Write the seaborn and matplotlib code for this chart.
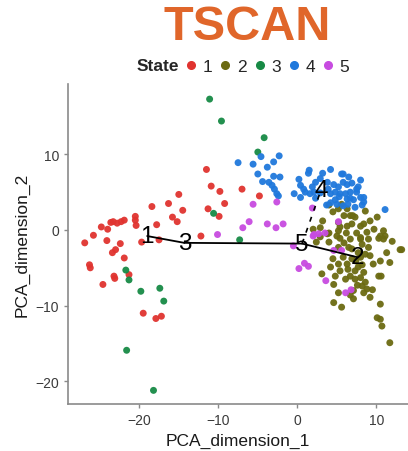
import numpy as np
import pandas as pd
import matplotlib
matplotlib.use("Agg")
import matplotlib.pyplot as plt
import seaborn as sns
from matplotlib.lines import Line2D

# ---------------- data ----------------
s1_x = [-15.0, -16.3, -18.4, -14.5, -15.8, -15.2, -20.5, -20.5, -21.9, -22.3, -22.8, -23.3, -23.6, -24.8, -24.0,
        -25.8, -20.4, -17.8, -24.1, -26.9, -22.4, -19.7, -17.5, -23.0, -23.4, -21.9, -26.3, -26.2, -21.3, -23.2,
        -23.1, -24.6, -19.5, -17.9, -17.2, -12.2, -11.5, -10.9, -9.8, -9.2, -11.3, -9.9, -7.0, -4.8]
s1_y = [4.7, 3.5, 3.1, 2.6, 1.7, 1.1, 1.8, 1.3, 1.3, 1.1, 0.9, 1.1, 1.0, 0.4, 0.1,
        -0.7, 0.6, 0.7, -1.4, -1.7, -1.8, -1.6, -1.3, -2.6, -3.0, -3.7, -4.6, -5.0, -5.9, -6.1,
        -6.4, -7.2, -11.0, -11.7, -11.4, -0.8, 8.0, 5.8, 5.1, 3.5, 2.8, 1.8, 5.4, 4.5]

s2_x = [4.0, 5.6, 8.6, 5.2, 6.7, 7.3, 10.1, 2.9, 5.4, 6.3, 6.9, 8.0, 8.4, 10.9, 5.9, 7.0, 5.2, 4.0, 5.2, 6.2,
        7.5, 8.8, 5.4, 6.7, 8.0, 10.3, 11.1, 12.0, 13.2, 11.3, 3.8, 5.0, 8.0, 10.5, 10.9, 8.2, 9.0, 4.0, 5.2, 6.5,
        13.0, 7.7, 8.6, 9.2, 10.5, 11.7, 5.8, 5.2, 6.3, 4.2, 5.4, 7.3, 8.4, 3.1, 4.8, 6.7, 8.0, 8.6, 10.3, 4.6,
        8.2, 8.8, 5.2, 7.1, 8.4, 4.6, 5.6, 7.1, 9.2, 10.5, 10.1, 10.5, 10.7, 11.7, 9.6, 10.6, 9.5, 6.9, 7.4, 7.7,
        8.2, 7.3, 7.6, 6.1, 6.7, 2.9, 2.4, 2.0, 3.2, 4.5, 6.3, 9.2, 9.7, 9.0, 5.9, 6.9, 8.0, 6.4, 4.5]
s2_y = [3.3, 3.4, 2.5, 2.8, 1.9, 1.7, 1.7, 0.3, 0.4, 0.5, 0.8, 0.5, 0.8, -0.1, 1.9, 1.9, 1.0, -0.4, -0.1, -0.4,
        -0.4, -0.3, -1.1, -1.2, -1.2, -1.1, -0.8, -1.5, -2.6, -3.0, -0.5, -0.8, -1.0, -0.8, -1.2, -1.9, -2.3, -1.6, -2.3, -2.3,
        -2.6, -3.0, -3.2, -3.4, -4.1, -4.3, -3.6, -4.5, -4.5, -4.9, -5.4, -5.4, -5.6, -5.8, -6.1, -6.1, -6.3, -6.9, -6.1, -7.2,
        -7.4, -7.8, -8.3, -8.0, -8.3, -9.6, -10.2, -9.1, -8.9, -9.8, -11.6, -11.8, -12.7, -14.9, -4.5, -6.1, -7.9, -3.8, -4.1, -4.9,
        -4.6, -6.5, -7.3, -6.5, -8.6, -0.9, -1.6, 0.1, 1.2, 2.4, 2.8, 1.2, 0.1, -1.2, -1.7, -2.5, -3.6, -5.2, -3.8]

s3_x = [-11.1, -9.6, -4.2, -5.0, -10.6, -7.3, -21.7, -21.3, -19.8, -17.4, -16.9, -21.6, -18.2]
s3_y = [17.3, 14.4, 12.2, 10.3, 2.2, -1.3, -5.3, -6.6, -8.1, -7.7, -9.4, -15.9, -21.2]

s4_x = [-7.5, -5.6, -4.6, -3.8, -3.0, -2.3, -5.0, -3.0, -2.2, -4.4, -3.6, -3.2, -2.9, -2.6, -2.4,
        1.5, 1.4, 4.2, 5.8, 6.5, 0.2, 2.9, 3.8, 4.6, 5.2, 5.8, 6.3, 8.0, 0.4, 0.8, -0.4, 1.0, 1.6, 0.4, 2.3,
        4.2, 4.8, 5.4, 6.1, 6.7, 7.5, 8.0, 8.4, 4.8, 6.3, 7.1, 3.7, 4.2, 5.8, 7.3, 8.2, 8.4, 11.1, 2.1, 5.0,
        7.5, 5.6, 2.3, 3.2, 6.9, 6.4, 5.3, 3.9, 1.9, 7.7, 2.9, 6.7]
s4_y = [8.9, 8.7, 9.7, 8.3, 9.0, 9.8, 7.4, 7.1, 7.0, 6.4, 6.3, 5.9, 5.4, 4.8, 4.5,
        7.9, 7.5, 8.0, 7.4, 7.0, 6.7, 6.8, 6.3, 6.0, 5.7, 6.3, 6.0, 6.6, 5.9, 5.4, 4.8, 5.0, 4.8, 4.3, 4.2,
        4.8, 5.0, 4.8, 4.8, 5.0, 5.0, 4.3, 4.3, 4.0, 4.1, 4.0, 3.3, 3.6, 3.2, 3.0, 3.3, 3.7, 2.7, 5.0, 3.4,
        5.4, 7.4, 6.3, 7.5, 6.2, 3.4, 4.4, 5.4, 5.7, 5.7, 4.9, 4.2]

s5_x = [-5.6, -2.6, -6.1, -6.9, -3.8, -2.7, -1.8, -10.1, 1.9, 5.2, 2.1, 2.7, 2.0, -0.5, 4.6, 5.6, 0.9, 1.4, 0.2,
        3.6, 6.1, 6.8, 3.5]
s5_y = [3.4, 3.7, 1.1, 0.3, 0.8, 0.3, 0.8, -0.6, 2.9, 1.1, -0.6, -0.5, -0.8, -2.1, -2.7, -2.7, -4.4, -4.8, -5.1,
        -6.7, -8.3, -7.9, -0.4]

states = ["1", "2", "3", "4", "5"]
state_colors = ["#E0332F", "#6B6A12", "#178A45", "#1F78DC", "#C74BE0"]

# cluster centres (TSCAN MST)
center_labels = ["1", "3", "5", "2", "4"]
center_x = [-19.0, -14.3, 0.6, 7.6, 3.0]
center_y = [-0.8, -1.7, -1.8, -3.6, 5.3]

x_ticks = [-20, -10, 0, 10]
y_ticks = [-20, -10, 0, 10]

df = pd.concat([
    pd.DataFrame({"x": s1_x, "y": s1_y, "State": "1"}),
    pd.DataFrame({"x": s2_x, "y": s2_y, "State": "2"}),
    pd.DataFrame({"x": s3_x, "y": s3_y, "State": "3"}),
    pd.DataFrame({"x": s4_x, "y": s4_y, "State": "4"}),
    pd.DataFrame({"x": s5_x, "y": s5_y, "State": "5"}),
], ignore_index=True)

# ---------------- plot ----------------
sns.set_style("ticks")
plt.rcParams["font.family"] = ["Liberation Sans", "DejaVu Sans"]

fig = plt.figure(figsize=(4.08, 4.52), dpi=100)
ax = fig.add_axes([0.167, 0.104, 0.833, 0.708])

pal = dict(zip(states, state_colors))
sns.scatterplot(data=df, x="x", y="y", hue="State", hue_order=states, palette=pal,
                s=25, linewidth=0, alpha=0.95, ax=ax, legend=False, zorder=2)

# MST path
name_idx = {n: i for i, n in enumerate(center_labels)}
for a, b in [("1", "3"), ("3", "5"), ("5", "2")]:
    ia, ib = name_idx[a], name_idx[b]
    ax.plot([center_x[ia], center_x[ib]], [center_y[ia], center_y[ib]], color="black", lw=1.3, zorder=3)
ia, ib = name_idx["5"], name_idx["4"]
ax.plot([center_x[ia], center_x[ib]], [center_y[ia], center_y[ib]], color="black", lw=1.2,
        ls=(0, (3, 4)), zorder=3)
for lab, cx, cy in zip(center_labels, center_x, center_y):
    ax.text(cx, cy, lab, fontsize=17.5, ha="center", va="center", color="black", zorder=4)

ax.set_xlim(-29.0, 14.0)
ax.set_ylim(-23.0, 19.3)
ax.set_xticks(x_ticks)
ax.set_yticks(y_ticks)
ax.set_xlabel("PCA_dimension_1", fontsize=12.5, color="#1a1a1a")
ax.set_ylabel("PCA_dimension_2", fontsize=12.5, color="#1a1a1a")
sns.despine(ax=ax)
for sp in ["left", "bottom"]:
    ax.spines[sp].set_color("#8a8a8a")
    ax.spines[sp].set_linewidth(1.2)
ax.tick_params(axis="both", colors="#8a8a8a", labelcolor="#3a3a3a", labelsize=10, length=3, width=1)

# title
fig.text(247 / 408, 1 - 27.5 / 452, "TSCAN", ha="center", va="center", fontsize=35,
         fontweight="bold", color="#E0662A")

# legend
fig.text(137 / 408, 1 - 67 / 452, "State", ha="left", va="center", fontsize=12.5, fontweight="bold")
handles = [Line2D([], [], marker="o", ls="", color=c, markersize=5.5) for c in state_colors]
fig.legend(handles, states, loc="center left", bbox_to_anchor=(185 / 408, 1 - 67 / 452), ncol=5,
           frameon=False, fontsize=12.5, handlelength=0.7, handletextpad=0.3, columnspacing=0.42,
           borderpad=0, borderaxespad=0)

fig.savefig("out.png", dpi=100)
